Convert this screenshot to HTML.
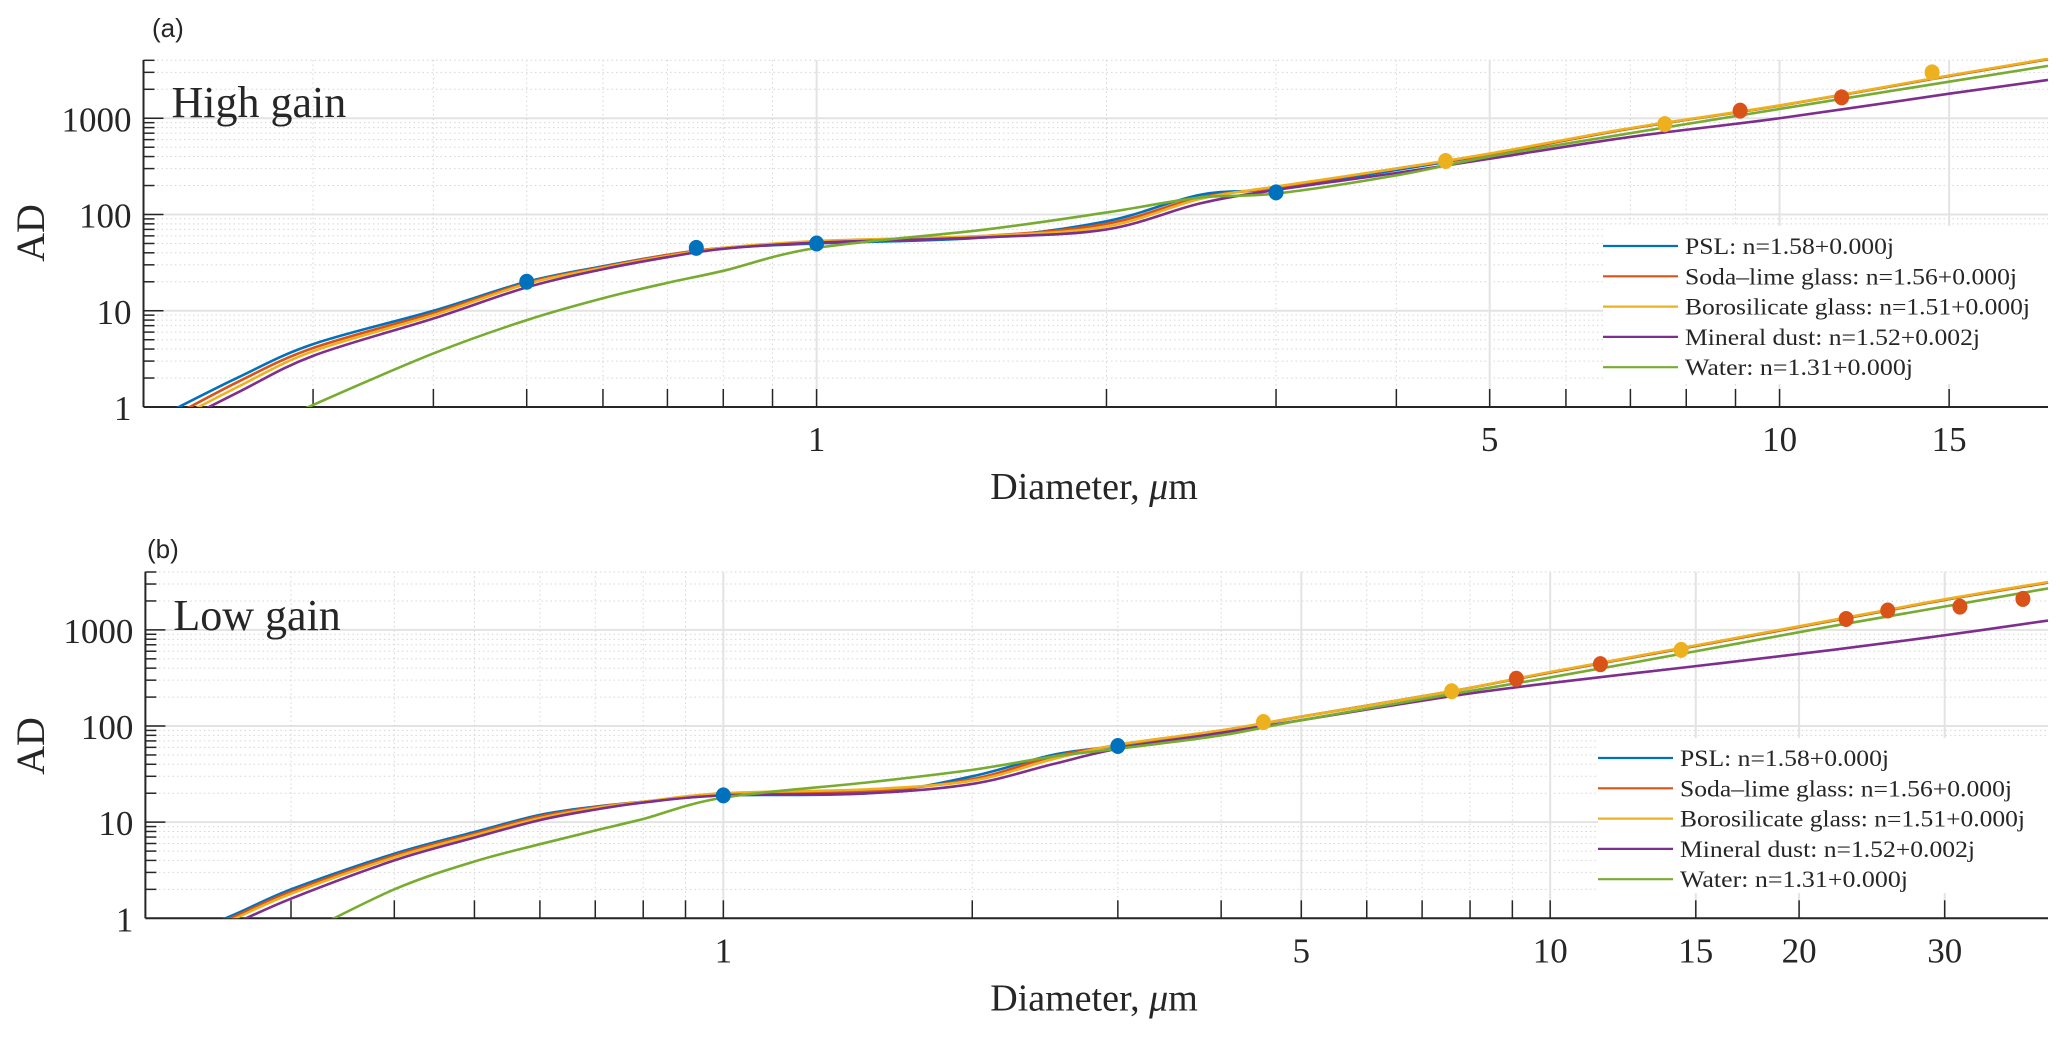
<!DOCTYPE html>
<html><head><meta charset="utf-8"><style>
html,body{margin:0;padding:0;background:#fff;}
svg{display:block;}
text{font-family:"Liberation Serif",serif;fill:#262626;}
</style></head><body>
<svg id="fig" width="2067" height="1039" viewBox="0 0 2067 1039" xmlns="http://www.w3.org/2000/svg"></svg>
<script>
// ---------- data ----------
const seriesNames = ["PSL: n=1.58+0.000j","Soda\u2013lime glass: n=1.56+0.000j","Borosilicate glass: n=1.51+0.000j","Mineral dust: n=1.52+0.002j","Water: n=1.31+0.000j"];
const seriesKeys = ["psl","soda-lime","borosilicate","mineral-dust","water"];
const colors = ["#0072BD","#D95319","#EDB120","#7E2F8E","#77AC30"];

// Panel (a) high gain
const xA = [0.2,0.25,0.3,0.4,0.5,0.6,0.7,0.8,1,1.5,2,2.5,3,4,5,7,10,15,19];
const pslA =     [0.65,2.0,4.5,10,20,29,38,45,50,58,85,160,185,290,420,780,1350,2750,4100];
const sodaA =    [0.55,1.8,4.1,9.5,19.5,28.5,38,45,52,60,80,150,190,300,420,780,1350,2750,4100];
const boroA =    [0.5,1.6,3.8,9,19,28,37,45,53,60,75,145,195,300,430,790,1360,2780,4150];
const dustA =    [0.45,1.4,3.4,8.3,17.5,27,36,44,51,58,70,130,180,270,380,640,1000,1800,2500];
const waterA =   [0.15,0.45,1.05,3.6,8.0,13.5,19.5,26,45,70,105,150,165,255,400,700,1250,2400,3500];
const markAx = [0.5,0.75,1,3,4.5,7.6,14.4,9.1,11.6];
const markAy = [20,45,50,170,360,870,3000,1200,1650];
const markAc = [0,0,0,0,2,2,2,1,1];
const xTicksA = [0.3,0.4,0.5,0.6,0.7,0.8,0.9,1,2,3,4,5,6,7,8,9,10,15];
const xLabelsA = [1,5,10,15];

// Panel (b) low gain
const xB = [0.2,0.25,0.3,0.4,0.5,0.6,0.7,0.8,1,1.5,2,2.5,3,4,5,7.6,10,15,22,30,40];
const pslB =   [0.5,1,2,4.7,7.9,11.9,14.5,16.3,19,20,30,50,62,88,125,230,360,680,1250,2050,3100];
const sodaB =  [0.45,0.95,1.9,4.5,7.6,11.5,14.3,16.3,19.5,21,28,48,63,90,125,230,360,680,1250,2050,3100];
const boroB =  [0.4,0.9,1.8,4.3,7.3,11,14,16.3,20,22,27,45,64,90,125,230,365,690,1270,2080,3150];
const dustB =  [0.35,0.8,1.6,4,6.9,10.5,13.5,16,19,20,25,40,58,85,115,205,280,420,620,880,1250];
const waterB = [0.1,0.3,0.6,2.0,3.9,5.9,8.2,10.8,18,26,35,48,58,80,115,215,320,600,1100,1750,2700];
const markBx = [1,3,4.5,7.6,14.4,9.1,11.5,22.8,25.6,31.3,37.3];
const markBy = [19,62,110,230,620,310,440,1300,1590,1745,2100];
const markBc = [0,0,2,2,2,1,1,1,1,1,1];
const xTicksB = [0.3,0.4,0.5,0.6,0.7,0.8,0.9,1,2,3,4,5,6,7,8,9,10,15,20,30];
const xLabelsB = [1,5,10,15,20,30];

const yTickLabels = [1,10,100,1000];

// ---------- drawing ----------
const NS = "http://www.w3.org/2000/svg";
const svg = document.getElementById("fig");
function mk(tag, attrs, parent){
  const e = document.createElementNS(NS, tag);
  for (const k in attrs) e.setAttribute(k, attrs[k]);
  (parent||svg).appendChild(e);
  return e;
}

function panel(cfg){
  const g = mk("g", {});
  
  
  const L = cfg.left, R = cfg.right, T = cfg.top, B = cfg.bottom;
  const lx0 = Math.log10(cfg.xmin), lx1 = Math.log10(cfg.xmax);
  const ly0 = 0, ly1 = Math.log10(cfg.ymax);
  const sx = v => L + (Math.log10(v) - lx0) / (lx1 - lx0) * (R - L);
  const sy = v => B - (Math.log10(v) - ly0) / (ly1 - ly0) * (B - T);

  // grid
  const grid = mk("g", {}, g);
  
  
  for (let d = 0; d < 4; d++) {
    for (let m = 1; m <= 9; m++) {
      const v = m * Math.pow(10, d);
      if (v > cfg.ymax || v < 1) continue;
      const y = sy(v);
      if (m === 1) mk("line", {x1:L,x2:R,y1:y,y2:y,stroke:"#e3e3e3","stroke-width":2}, grid);
      else mk("line", {x1:L,x2:R,y1:y,y2:y,stroke:"#d6d6d6","stroke-width":1,"stroke-dasharray":"1.5 3"}, grid);
    }
  }
  cfg.xticks.forEach(v => {
    const x = sx(v);
    if (cfg.xlabels.includes(v)) mk("line", {x1:x,x2:x,y1:T,y2:B,stroke:"#e3e3e3","stroke-width":2}, grid);
    else mk("line", {x1:x,x2:x,y1:T,y2:B,stroke:"#d6d6d6","stroke-width":1,"stroke-dasharray":"1.5 3"}, grid);
  });

  // axes
  const ax = mk("g", {}, g);
  
  
  mk("line", {x1:L,x2:R,y1:B,y2:B,stroke:"#262626","stroke-width":2}, ax);
  mk("line", {x1:L,x2:L,y1:T,y2:B,stroke:"#262626","stroke-width":2}, ax);
  cfg.xticks.forEach(v => {
    const x = sx(v);
    mk("line", {x1:x,x2:x,y1:B,y2:B-18,stroke:"#262626","stroke-width":1.5}, ax);
  });
  for (let d = 0; d < 4; d++) {
    for (let m = 1; m <= 9; m++) {
      const v = m * Math.pow(10, d);
      if (v > cfg.ymax) continue;
      const y = sy(v);
      mk("line", {x1:L,x2:L+(m===1?20:11),y1:y,y2:y,stroke:"#262626","stroke-width":1.5}, ax);
    }
  }
  yTickLabels.forEach(v => {
    const t = mk("text", {x:L-12, y:sy(v)+13, "text-anchor":"end","font-size":35}, ax);
    t.textContent = v;
    
    
  });
  cfg.xlabels.forEach(v => {
    const t = mk("text", {x:sx(v), y:B+44, "text-anchor":"middle","font-size":35}, ax);
    t.textContent = v;
    
    
  });

  // series
  const ser = [cfg.psl, cfg.soda, cfg.boro, cfg.dust, cfg.water];
  const clip = mk("clipPath", {id:"clip-"+cfg.name}, g);
  mk("rect", {x:L, y:T-2, width:R-L+2, height:B-T+2}, clip);
  ser.forEach((ys, i) => {
    const pts = cfg.xs.map((x, j) => [sx(x), sy(ys[j])]);
    let d = "M" + pts[0][0] + "," + pts[0][1];
    for (let j = 0; j < pts.length - 1; j++) {
      const p0 = pts[Math.max(j-1,0)], p1 = pts[j], p2 = pts[j+1], p3 = pts[Math.min(j+2,pts.length-1)];
      const c1x = p1[0] + (p2[0]-p0[0])/6, c1y = p1[1] + (p2[1]-p0[1])/6;
      const c2x = p2[0] - (p3[0]-p1[0])/6, c2y = p2[1] - (p3[1]-p1[1])/6;
      d += " C" + c1x + "," + c1y + " " + c2x + "," + c2y + " " + p2[0] + "," + p2[1];
    }
    const p = mk("path", {d:d, fill:"none", stroke:colors[i], "stroke-width":2.6, "clip-path":"url(#clip-"+cfg.name+")"}, g);
    
    
  });

  // markers
  cfg.mx.forEach((x, j) => {
    const c = mk("ellipse", {cx:sx(x), cy:sy(cfg.my[j]), rx:7.5, ry:8, fill:colors[cfg.mc[j]]}, g);
    
    
  });

  // legend
  const lg = mk("g", {}, g);
  
  
  mk("rect", {x:cfg.legX, y:cfg.legY, width:R-cfg.legX, height:cfg.legH, fill:"#fff"}, lg);
  const widths = [209,332,345,295,228];
  seriesNames.forEach((n, i) => {
    const y = cfg.legY + 20 + i*30.3;
    const e = mk("g", {}, lg);
    
    
    mk("line", {x1:cfg.legX, x2:cfg.legX+75, y1:y, y2:y, stroke:colors[i], "stroke-width":2.2}, e);
    const t = mk("text", {x:cfg.legX+82, y:y+8, "font-size":23, textLength:widths[i], lengthAdjust:"spacingAndGlyphs"}, e);
    t.textContent = n;
  });

  // labels
  const gt = mk("text", {x:L+28, y:cfg.gainY, "font-size":44}, g);
  gt.textContent = cfg.gain;
  
  
  const xl = mk("text", {x:cfg.xlabX, y:B+92, "text-anchor":"middle","font-size":38}, g);
  xl.innerHTML = 'Diameter, <tspan font-style="italic">\u03bc</tspan>m';
  
  
  const yl = mk("text", {x:0, y:0, "text-anchor":"middle","font-size":40, transform:"translate(44,"+cfg.ylabY+") rotate(-90)"}, g);
  yl.textContent = "AD";
  
  
  const pl = mk("text", {x:cfg.plX, y:cfg.plY, "font-size":26, style:"font-family:'Liberation Sans',sans-serif"}, g);
  pl.textContent = cfg.pl;
  
  
}

panel({name:"panel-a-high-gain", left:143.5, right:2048, top:60, bottom:407, xmin:0.2, xmax:19, ymax:4030,
  xs:xA, psl:pslA, soda:sodaA, boro:boroA, dust:dustA, water:waterA,
  mx:markAx, my:markAy, mc:markAc, xticks:xTicksA, xlabels:xLabelsA,
  legX:1603, legY:226, legH:158, gain:"High gain", gainY:117, xlabX:1094, ylabY:233, pl:"(a)", plX:152, plY:37});
panel({name:"panel-b-low-gain", left:145.4, right:2048, top:571.7, bottom:918.3, xmin:0.2, xmax:40, ymax:4030,
  xs:xB, psl:pslB, soda:sodaB, boro:boroB, dust:dustB, water:waterB,
  mx:markBx, my:markBy, mc:markBc, xticks:xTicksB, xlabels:xLabelsB,
  legX:1598, legY:738, legH:155, gain:"Low gain", gainY:630, xlabX:1094, ylabY:746, pl:"(b)", plX:147, plY:558});
</script>
</body></html>
